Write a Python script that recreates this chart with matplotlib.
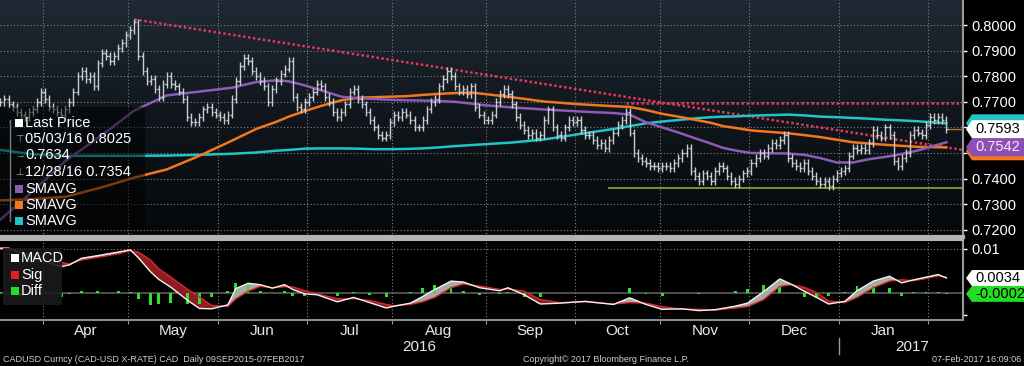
import numpy as np
import pandas as pd
import matplotlib
matplotlib.use('Agg')
import matplotlib.pyplot as plt
import matplotlib.transforms as mtransforms
from matplotlib.patches import Rectangle, Polygon
from matplotlib.lines import Line2D
from matplotlib.colors import LinearSegmentedColormap

plt.rcParams['font.family'] = ['Liberation Sans', 'DejaVu Sans']

# trading days shown on the chart (weekdays)
dates = pd.bdate_range('2016-03-17', '2017-02-07')

# daily closes
closes = [
    0.770, 0.771, 0.769, 0.768, 0.766, 0.765, 0.764, 0.766, 0.767, 0.770,
    0.774, 0.771, 0.768, 0.767, 0.766, 0.765, 0.767, 0.770, 0.774, 0.780,
    0.782, 0.779, 0.780, 0.776, 0.785, 0.789, 0.788, 0.786, 0.788, 0.791,
    0.793, 0.796, 0.798, 0.801, 0.788, 0.782, 0.778, 0.779, 0.775, 0.772,
    0.777, 0.780, 0.777, 0.776, 0.774, 0.771, 0.764, 0.762, 0.762, 0.764,
    0.767, 0.768, 0.766, 0.765, 0.764, 0.763, 0.765, 0.771, 0.778, 0.784,
    0.787, 0.786, 0.782, 0.780, 0.778, 0.776, 0.770, 0.775, 0.778, 0.781,
    0.783, 0.786, 0.772, 0.768, 0.767, 0.770, 0.772, 0.774, 0.777, 0.776,
    0.772, 0.770, 0.766, 0.764, 0.766, 0.769, 0.774, 0.775, 0.771, 0.769,
    0.766, 0.763, 0.760, 0.757, 0.756, 0.757, 0.762, 0.765, 0.764, 0.766,
    0.765, 0.763, 0.760, 0.760, 0.763, 0.767, 0.770, 0.771, 0.776, 0.779,
    0.782, 0.780, 0.776, 0.774, 0.775, 0.773, 0.776, 0.768, 0.765, 0.763,
    0.763, 0.765, 0.770, 0.773, 0.775, 0.773, 0.769, 0.764, 0.761, 0.759,
    0.757, 0.758, 0.756, 0.757, 0.763, 0.767, 0.760, 0.757, 0.756, 0.760,
    0.763, 0.762, 0.763, 0.759, 0.757, 0.757, 0.755, 0.753, 0.754, 0.752,
    0.755, 0.758, 0.761, 0.763, 0.766, 0.758, 0.750, 0.748, 0.747, 0.746,
    0.745, 0.745, 0.744, 0.745, 0.745, 0.744, 0.746, 0.748, 0.750, 0.752,
    0.743, 0.741, 0.739, 0.742, 0.741, 0.739, 0.743, 0.745, 0.744, 0.741,
    0.739, 0.738, 0.740, 0.742, 0.743, 0.746, 0.748, 0.750, 0.749, 0.752,
    0.754, 0.753, 0.755, 0.757, 0.748, 0.746, 0.745, 0.744, 0.746, 0.743,
    0.741, 0.739, 0.738, 0.739, 0.737, 0.740, 0.742, 0.743, 0.744, 0.749,
    0.752, 0.751, 0.752, 0.751, 0.754, 0.759, 0.757, 0.756, 0.760, 0.757,
    0.747, 0.745, 0.748, 0.750, 0.757, 0.759, 0.758, 0.757, 0.761, 0.764,
    0.763, 0.764, 0.763, 0.7593,
]

# moving averages, sampled at these bar indices
ma_idx = [0, 8, 16, 25, 33, 41, 49, 57, 63, 68, 71, 75, 79, 84, 88, 92, 96,
          100, 104, 108, 112, 116, 119, 126, 134, 143, 151, 155, 159, 163, 167,
          171, 175, 178, 181, 185, 194, 198, 202, 206, 210, 214, 218, 221, 226, 233]
ma_purple = [0.7240, 0.7351, 0.7469, 0.7570, 0.7666, 0.7725, 0.7740, 0.7755, 0.7777,
             0.7784, 0.7780, 0.7764, 0.7745, 0.7720, 0.7714, 0.7711, 0.7708, 0.7706,
             0.7705, 0.7703, 0.7700, 0.7693, 0.7687, 0.7678, 0.7670, 0.7662, 0.7656,
             0.7650, 0.7620, 0.7600, 0.7580, 0.7558, 0.7537, 0.7520, 0.7510, 0.7500,
             0.7498, 0.7493, 0.7480, 0.7463, 0.7463, 0.7476, 0.7485, 0.7493, 0.7510, 0.7542]
ma_orange = [0.7315, 0.7320, 0.7329, 0.7366, 0.7404, 0.7436, 0.7489, 0.7548, 0.7594,
             0.7622, 0.7642, 0.7664, 0.7684, 0.7706, 0.7716, 0.7718, 0.7720, 0.7722,
             0.7727, 0.7731, 0.7734, 0.7736, 0.7731, 0.7718, 0.7701, 0.7690, 0.7683,
             0.7680, 0.7668, 0.7653, 0.7642, 0.7630, 0.7618, 0.7605, 0.7598, 0.7588,
             0.7577, 0.7570, 0.7562, 0.7552, 0.7542, 0.7537, 0.7532, 0.7529, 0.7524, 0.7522]
ma_cyan = [0.7512, 0.7495, 0.7489, 0.7489, 0.7489, 0.7490, 0.7493, 0.7497, 0.7502,
           0.7509, 0.7512, 0.7517, 0.7518, 0.7518, 0.7517, 0.7515, 0.7515, 0.7516,
           0.7518, 0.7522, 0.7527, 0.7531, 0.7534, 0.7541, 0.7553, 0.7575, 0.7594,
           0.7605, 0.7616, 0.7623, 0.7629, 0.7635, 0.7640, 0.7642, 0.7643, 0.7646,
           0.7650, 0.7647, 0.7642, 0.7640, 0.7637, 0.7634, 0.7630, 0.7628, 0.7624, 0.7616]

# drawn trend lines (bar index, price)
trend_idx, trend_val = [33, 237], [0.8022, 0.7512]
resist_idx, resist_val = [154, 237], [0.7695, 0.7695]
support_idx, support_val = [150, 237], [0.7362, 0.7362]

# MACD panel, sampled at these bar indices
macd_idx = [0, 2, 5, 12, 15, 17, 20, 24, 29, 32, 34, 37, 39, 42, 46, 49, 52, 56, 58,
            61, 64, 67, 70, 72, 75, 78, 83, 87, 91, 95, 97, 101, 104, 107, 111, 114,
            118, 123, 125, 129, 133, 138, 144, 151, 155, 159, 163, 168, 172, 176, 181,
            184, 188, 192, 195, 198, 201, 204, 208, 211, 215, 219, 222, 225, 228, 231, 233]
macd = [0.0102, 0.0102, 0.0090, 0.0068, 0.0060, 0.0064, 0.0079, 0.0085, 0.0093, 0.0098,
        0.0080, 0.0048, 0.0031, 0.0013, -0.0016, -0.0035, -0.0036, -0.0027, 0.0010,
        0.0022, 0.0019, 0.0011, 0.0019, 0.0008, -0.0002, -0.0004, -0.0020, -0.0010,
        -0.0022, -0.0034, -0.0030, -0.0023, -0.0008, 0.0008, 0.0027, 0.0025, 0.0012,
        0.0005, 0.0012, -0.0004, -0.0025, -0.0023, -0.0019, -0.0026, -0.0011, -0.0026,
        -0.0037, -0.0036, -0.0040, -0.0038, -0.0030, -0.0023, 0.0003, 0.0032, 0.0019,
        0.0004, -0.0010, -0.0025, -0.0019, 0.0005, 0.0027, 0.0038, 0.0023, 0.0030,
        0.0036, 0.0042, 0.0034]
sig = [0.0099, 0.0100, 0.0096, 0.0070, 0.0070, 0.0066, 0.0075, 0.0081, 0.0089, 0.0096,
       0.0093, 0.0075, 0.0055, 0.0036, 0.0009, -0.0009, -0.0028, -0.0031, -0.0013,
       0.0004, 0.0015, 0.0012, 0.0014, 0.0014, 0.0005, -0.0002, -0.0013, -0.0013,
       -0.0017, -0.0026, -0.0029, -0.0026, -0.0020, -0.0010, 0.0012, 0.0020, 0.0016,
       0.0008, 0.0009, 0.0004, -0.0015, -0.0022, -0.0020, -0.0025, -0.0022, -0.0023,
       -0.0031, -0.0037, -0.0037, -0.0039, -0.0034, -0.0031, -0.0015, 0.0015, 0.0019,
       0.0013, 0.0001, -0.0018, -0.0022, -0.0010, 0.0012, 0.0027, 0.0030, 0.0028,
       0.0033, 0.0039, 0.0036]

W, H = 1024, 366
BAR_WICK = 0.0015  # how far the bar line reaches past open/close


def fbox(x0, y0, x1, y1):
    return [x0 / W, 1 - y1 / H, (x1 - x0) / W, (y1 - y0) / H]


def fx(x):
    return x / W


def fy(y):
    return 1 - y / H


def tag(axis, center, h, color, label, tcolor, z):
    tr = mtransforms.blended_transform_factory(axis.transAxes, axis.transData)
    pts = [(1.0031, center), (1.0093, center + h / 2), (1.08, center + h / 2),
           (1.08, center - h / 2), (1.0093, center - h / 2)]
    axis.add_patch(Polygon(pts, closed=True, transform=tr, facecolor=color,
                           edgecolor='none', clip_on=False, zorder=z))
    if label:
        axis.text(1.0125, center, label, transform=tr, color=tcolor, fontsize=10.5,
                  va='center', ha='left', clip_on=False, zorder=z + 0.1)


closes = np.array(closes)
x = np.arange(len(closes))
opens = np.r_[closes[0], closes[:-1]]
highs = np.maximum(opens, closes) + BAR_WICK
lows = np.minimum(opens, closes) - BAR_WICK

# month boundaries / centres in bar index units
months = pd.Series(x, index=dates).groupby([dates.year, dates.month])
firsts = months.min()
bounds = [v - 0.5 for (yy, mm), v in firsts.items() if (yy, mm) != (2016, 3)]
centers, names = [], []
for (yy, mm), grp in months:
    if (yy, mm) in [(2016, 3), (2017, 2)]:
        continue
    centers.append(grp.mean())
    names.append(pd.Timestamp(yy, mm, 1).strftime('%b'))
jan_b = firsts[(2017, 1)] - 0.5

xlim = (-0.1, 237.1)
ylim = (0.71719, 0.80977)
mlim = (-0.006136, 0.012045)

fig = plt.figure(figsize=(10.24, 3.66), dpi=100, facecolor='black')
ax = fig.add_axes(fbox(0, 0, 963, 237))
ax2 = fig.add_axes(fbox(0, 240, 963, 320))

# ---- price panel ----
grad = np.linspace(0, 1, 256).reshape(-1, 1)
bg = LinearSegmentedColormap.from_list('bg', ['#06080a', '#10161c', '#1f2a34'])
ax.imshow(grad, extent=[xlim[0], xlim[1], ylim[0], ylim[1]], origin='lower',
          aspect='auto', cmap=bg, zorder=0)

levels = np.round(np.arange(0.72, 0.8001, 0.01), 2)
ax.set_yticks(levels)
# 0.7600 / 0.7500 sit under the value tags on the original
ax.set_yticklabels(['' if v in (0.75, 0.76) else f'{v:.4f}' for v in levels])
ax.set_xticks(bounds)
ax.grid(True, color='#7c848c', linestyle=(0, (1, 2)), linewidth=0.8)
ax.tick_params(axis='x', length=0, labelbottom=False)
ax.yaxis.tick_right()
ax.tick_params(axis='y', colors='white', labelcolor='white', labelsize=10.5,
               length=3, width=1, pad=3)
for s in ['left', 'top']:
    ax.spines[s].set_visible(False)
ax.spines['right'].set_color('#9a9a9a')
ax.spines['right'].set_linewidth(1.5)
ax.spines['bottom'].set_color('#b4b4b4')
ax.spines['bottom'].set_linewidth(3)

ax.plot(trend_idx, trend_val, color='#e0385a', lw=1.8, ls=(0, (1, 1)), zorder=3)
ax.plot(resist_idx, resist_val, color='#e0385a', lw=1.8, ls=(0, (1, 1)), zorder=3)
ax.plot(support_idx, support_val, color='#7fa12a', lw=1.3, zorder=3)

ax.plot(ma_idx, ma_cyan, color='#22c4c4', lw=1.8, zorder=4)
ax.plot(ma_idx, ma_orange, color='#f4761e', lw=1.8, zorder=4)
ax.plot(ma_idx, ma_purple, color='#8d5cb4', lw=1.8, zorder=4)

bar_c = '#c9cdd2'
ax.vlines(x, lows, highs, color=bar_c, lw=1, zorder=5)
ax.hlines(opens, x - 0.4, x, color=bar_c, lw=1, zorder=5)
ax.hlines(closes, x, x + 0.4, color=bar_c, lw=1, zorder=5)
ax.plot([x[-1] + 0.5, xlim[1]], [closes[-1], closes[-1]], color='#a07a40', lw=1, zorder=4)

h = 18 / 2560
tag(ax, ma_cyan[-1], h, '#22c4c4', '', 'black', 10)
purple_c = min(ma_purple[-1], closes[-1] - h)
tag(ax, min(ma_orange[-1], purple_c - 0.0016), h, '#f4761e', '', 'black', 10.2)
tag(ax, purple_c, h, '#8d4fb5', f'{ma_purple[-1]:.4f}', '#f2ecf8', 10.4)
tag(ax, closes[-1], h, 'white', f'{closes[-1]:.4f}', 'black', 10.6)

ax.set_xlim(xlim)
ax.set_ylim(ylim)

# ---- MACD panel ----
macd = np.array(macd)
sig = np.array(sig)
diff = macd - sig
ax2.set_facecolor('black')
ax2.axhline(0, color='#5c5c5c', lw=1.2, zorder=1)
ax2.axhline(0.01, color='#7c848c', ls=(0, (1, 2)), lw=0.8, zorder=1)
ax2.set_xticks(bounds)
ax2.grid(True, axis='x', color='#7c848c', linestyle=(0, (1, 2)), linewidth=0.8)
ax2.fill_between(macd_idx, macd, sig, where=macd >= sig, interpolate=True,
                 color='#a9a9a9', lw=0, zorder=2)
ax2.fill_between(macd_idx, macd, sig, where=macd < sig, interpolate=True,
                 color='#8e1d22', lw=0, zorder=2)
ax2.bar(macd_idx, diff, width=0.7, color='#2ee02e', zorder=2.5)
ax2.plot(macd_idx, sig, color='#d42a2a', lw=1, zorder=3)
ax2.plot(macd_idx, macd, color='#f2f2f2', lw=1, zorder=3)

ax2.yaxis.tick_right()
ax2.set_yticks([0.01, -0.005])
ax2.set_yticklabels(['0.01', ''])
ax2.tick_params(axis='y', colors='white', labelcolor='white', labelsize=10.5,
                length=3, width=1, pad=3)
ax2.set_xticklabels([''] * len(bounds))
ax2.set_xticks(centers, minor=True)
ax2.set_xticklabels(names, minor=True)
ax2.tick_params(axis='x', which='major', length=3, color='#9a9a9a', direction='out')
ax2.tick_params(axis='x', which='minor', length=0, labelsize=11,
                labelcolor='#e8e8e8', pad=3)
ax2.spines['left'].set_visible(False)
ax2.spines['top'].set_color('#b4b4b4')
ax2.spines['top'].set_linewidth(1.5)
ax2.spines['right'].set_color('#9a9a9a')
ax2.spines['right'].set_linewidth(1.5)
ax2.spines['bottom'].set_color('#8c8c8c')
ax2.spines['bottom'].set_linewidth(1.5)

hm = 16 / 4400
tag(ax2, diff[-1], hm, '#22dd22', f'{diff[-1]:.4f}', 'black', 10)
tag(ax2, macd[-1], hm, 'white', f'{macd[-1]:.4f}', 'black', 10.2)

ax2.set_xlim(xlim)
ax2.set_ylim(mlim)

# year labels under the month row
trx = mtransforms.blended_transform_factory(ax2.transData, ax2.transAxes)
ax2.text((xlim[0] + jan_b) / 2, -0.34, '2016', transform=trx, color='#e8e8e8',
         fontsize=11, ha='center', va='center', clip_on=False)
ax2.text(jan_b + 18, -0.34, '2017', transform=trx, color='#e8e8e8',
         fontsize=11, ha='center', va='center', clip_on=False)
ax2.add_line(Line2D([jan_b, jan_b], [-0.22, -0.42], transform=trx, color='#9a9a9a',
                    lw=1, clip_on=False))

# ---- legends ----
fig.add_artist(Rectangle((fx(0), fy(230)), fx(145), 123 / H, transform=fig.transFigure,
                         facecolor='black', alpha=0.5, edgecolor='none', zorder=5))
fig.add_artist(Line2D([fx(10), fx(10)], [fy(120), fy(221)], transform=fig.transFigure,
                      color='#7a7a7a', lw=1, zorder=6))
rows = [(123, 'white', 'Last Price'), (189, '#8d5cb4', 'SMAVG'),
        (205, '#f4761e', 'SMAVG'), (221, '#22c4c4', 'SMAVG')]
for yy, col, lab in rows:
    fig.add_artist(Rectangle((fx(15), fy(yy + 4)), fx(8), 8 / H, transform=fig.transFigure,
                             facecolor=col, edgecolor='none', zorder=6))
    fig.text(fx(25), fy(yy), lab, color='white', fontsize=10.5, va='center', zorder=7)
for yy, sym, lab in [(139, '⊤', '05/03/16 0.8025'), (155, '→', '0.7634'),
                     (172, '⊥', '12/28/16 0.7354')]:
    fig.text(fx(15), fy(yy), sym, color='#9a9a9a', fontsize=7, va='center', zorder=7)
    fig.text(fx(25), fy(yy), lab, color='white', fontsize=10.5, va='center', zorder=7)

fig.add_artist(Rectangle((fx(3), fy(305)), fx(59), 57 / H, transform=fig.transFigure,
                         facecolor='#1a1a1a', alpha=0.9, edgecolor='none', zorder=5))
for yy, col, lab in [(258, 'white', 'MACD'), (275, '#e02020', 'Sig'), (291, '#22dd22', 'Diff')]:
    fig.add_artist(Rectangle((fx(11), fy(yy + 4)), fx(8), 8 / H, transform=fig.transFigure,
                             facecolor=col, edgecolor='none', zorder=6))
    fig.text(fx(21), fy(yy), lab, color='white', fontsize=10.5, va='center', zorder=7)

# ---- footer ----
fig.text(fx(3), fy(360), 'CADUSD Curncy (CAD-USD X-RATE) CAD  Daily 09SEP2015-07FEB2017',
         color='#cfcfcf', fontsize=6.5, va='center')
fig.text(fx(523), fy(360), 'Copyright\u00a9 2017 Bloomberg Finance L.P.',
         color='#cfcfcf', fontsize=6.5, va='center')
fig.text(fx(1021), fy(360), '07-Feb-2017 16:09:06', color='#cfcfcf', fontsize=6.5,
         va='center', ha='right')

fig.savefig('out.png', dpi=100, facecolor='black')
